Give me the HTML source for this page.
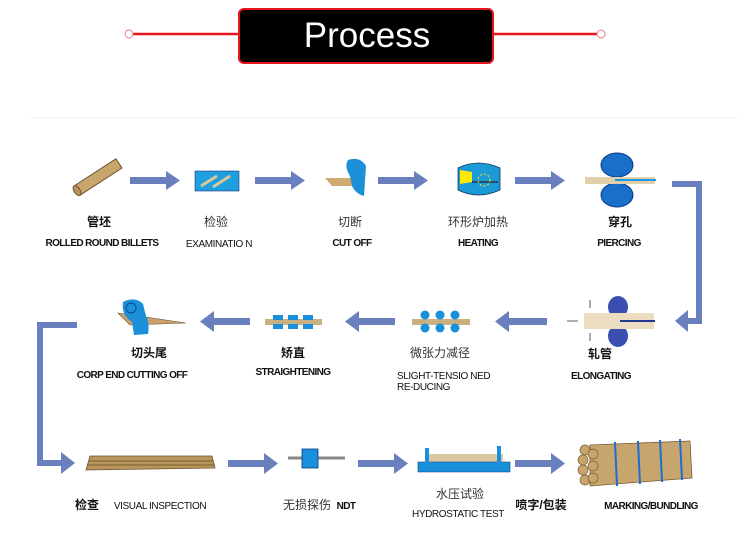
<!DOCTYPE html>
<html><head><meta charset="utf-8"><style>
html,body{margin:0;padding:0;background:#fff;width:750px;height:538px;overflow:hidden}
svg{display:block}
.cn{font-family:"Liberation Sans","Noto Sans CJK SC",sans-serif;font-size:12px;fill:#333;text-anchor:middle}
.cb{font-family:"Liberation Sans","Noto Sans CJK SC",sans-serif;font-size:12px;font-weight:bold;fill:#111;text-anchor:middle}
.en{font-family:"Liberation Sans",sans-serif;font-size:10px;fill:#111;text-anchor:middle;letter-spacing:-0.4px}
.enb{font-family:"Liberation Sans",sans-serif;font-size:10px;font-weight:bold;fill:#111;text-anchor:middle;letter-spacing:-0.6px}
</style></head><body>
<svg width="750" height="538" viewBox="0 0 750 538" xmlns="http://www.w3.org/2000/svg">
<defs>
<marker id="ah" markerWidth="10" markerHeight="10" refX="1" refY="5" orient="auto" markerUnits="userSpaceOnUse"><path d="M0,0 L10,5 L0,10Z" fill="#6a7fbe"/></marker>
</defs>
<!-- header -->
<line x1="129" y1="34" x2="601" y2="34" stroke="#e8141b" stroke-width="2.5"/>
<circle cx="129" cy="34" r="4" fill="#fff" stroke="#e87a80" stroke-width="1"/>
<circle cx="601" cy="34" r="4" fill="#fff" stroke="#e87a80" stroke-width="1"/>
<rect x="239" y="9" width="254" height="54" rx="5" fill="#000" stroke="#e8141b" stroke-width="2"/>
<text x="367" y="47" font-family="Liberation Sans,sans-serif" font-size="35" fill="#fff" text-anchor="middle">Process</text>
<line x1="30" y1="118" x2="740" y2="118" stroke="#f3f3f3" stroke-width="1"/>

<g fill="#6a7fbe">
<!-- row1 arrows -->
<rect x="130" y="177" width="38" height="7"/><path d="M166,171 L180,180.5 L166,190Z"/>
<rect x="255" y="177" width="38" height="7"/><path d="M291,171 L305,180.5 L291,190Z"/>
<rect x="378" y="177" width="38" height="7"/><path d="M414,171 L428,180.5 L414,190Z"/>
<rect x="515" y="177" width="38" height="7"/><path d="M551,171 L565,180.5 L551,190Z"/>
<!-- right connector -->
<rect x="672" y="181" width="30" height="6"/><rect x="696" y="181" width="6" height="143"/><rect x="686" y="318" width="16" height="6"/><path d="M688,310 L675,321 L688,332Z"/>
<!-- row2 arrows (left) -->
<rect x="507" y="318" width="40" height="7"/><path d="M509,311 L495,321.5 L509,332Z"/>
<rect x="357" y="318" width="38" height="7"/><path d="M359,311 L345,321.5 L359,332Z"/>
<rect x="212" y="318" width="38" height="7"/><path d="M214,311 L200,321.5 L214,332Z"/>
<rect x="393" y="318" width="18" height="7" opacity="0"/>
<rect x="375" y="318" width="0" height="0"/>
<!-- from reducing to left partial -->
<rect x="400" y="318" width="0" height="7"/>
<!-- left connector -->
<rect x="37" y="322" width="40" height="6"/><rect x="37" y="322" width="6" height="144"/><rect x="37" y="460" width="26" height="6"/><path d="M61,452 L75,463 L61,474Z"/>
<!-- row3 arrows -->
<rect x="228" y="460" width="38" height="7"/><path d="M264,453 L278,463.5 L264,474Z"/>
<rect x="358" y="460" width="38" height="7"/><path d="M394,453 L408,463.5 L394,474Z"/>
<rect x="515" y="460" width="38" height="7"/><path d="M551,453 L565,463.5 L551,474Z"/>
</g>

<!-- billet -->
<g transform="translate(98,177) rotate(-33)">
<rect x="-25" y="-5.5" width="50" height="11" fill="#c9a66e" stroke="#6b5030" stroke-width="1"/>
<ellipse cx="-25" cy="0" rx="3" ry="5.5" fill="#b8935a" stroke="#6b5030"/>
</g>
<!-- examination -->
<rect x="195" y="171" width="44" height="20" fill="#1e9fe0" stroke="#116" stroke-width="0.5"/>
<line x1="201" y1="186" x2="217" y2="176" stroke="#d8c89a" stroke-width="3"/>
<line x1="213" y1="187" x2="230" y2="176" stroke="#d8c89a" stroke-width="3"/>
<!-- cut off -->
<path d="M325,178 L355,178 L362,186 L332,186Z" fill="#d0aa70"/>
<path d="M348,160 Q360,156 366,166 L364,196 Q356,194 352,186 L350,176 Q344,166 348,160Z" fill="#1b8fd8"/>
<!-- heating -->
<path d="M458,168 Q478,158 500,168 L500,190 Q478,200 458,190Z" fill="#1b9ad8" stroke="#135" stroke-width="0.8"/>
<path d="M460,170 L472,172 L472,182 L460,184Z" fill="#ffea00"/>
<line x1="472" y1="182" x2="498" y2="182" stroke="#222" stroke-width="1.2"/>
<circle cx="484" cy="180" r="6" fill="none" stroke="#ffea00" stroke-width="1" stroke-dasharray="2,2"/>
<!-- piercing -->
<ellipse cx="617" cy="165" rx="16" ry="12" fill="#1a6fc8" stroke="#0a3a80"/>
<ellipse cx="617" cy="195" rx="16" ry="12" fill="#1a6fc8" stroke="#0a3a80"/>
<rect x="585" y="177" width="70" height="7" fill="#e0cfa8"/>
<line x1="615" y1="180" x2="656" y2="180" stroke="#1a9ae0" stroke-width="2"/>
<!-- elongating -->
<ellipse cx="618" cy="307" rx="10" ry="11" fill="#3b4fb0"/>
<ellipse cx="618" cy="336" rx="10" ry="11" fill="#3b4fb0"/>
<rect x="584" y="313" width="70" height="16" fill="#ecdcc0"/>
<line x1="620" y1="321" x2="655" y2="321" stroke="#223a90" stroke-width="2"/>
<g stroke="#333" stroke-width="0.8" fill="#333"><line x1="567" y1="321" x2="578" y2="321"/><line x1="590" y1="300" x2="590" y2="308"/><line x1="590" y1="333" x2="590" y2="341"/></g>
<!-- reducing -->
<rect x="412" y="319" width="58" height="6" fill="#c9b083"/>
<g fill="#1a8fdc"><circle cx="425" cy="315" r="4.5"/><circle cx="440" cy="315" r="4.5"/><circle cx="455" cy="315" r="4.5"/><circle cx="425" cy="328" r="4.5"/><circle cx="440" cy="328" r="4.5"/><circle cx="455" cy="328" r="4.5"/></g>
<!-- straightening -->
<rect x="265" y="319" width="57" height="6" fill="#c9b083"/>
<g fill="#1a8fdc"><rect x="273" y="315" width="10" height="5"/><rect x="288" y="315" width="10" height="5"/><rect x="303" y="315" width="10" height="5"/><rect x="273" y="324" width="10" height="5"/><rect x="288" y="324" width="10" height="5"/><rect x="303" y="324" width="10" height="5"/></g>
<!-- corp end cutting -->
<path d="M118,313 L186,323 L130,325Z" fill="#c9a06a" stroke="#6b5030" stroke-width="0.6"/>
<path d="M123,302 Q135,296 143,304 L146,316 Q150,324 148,334 L134,335 L132,322 Q121,315 123,302Z" fill="#1b8fd8"/>
<circle cx="131" cy="308" r="5" fill="none" stroke="#0a4a90"/>
<!-- visual -->
<path d="M90,456 L212,456 L215,468 L86,470Z" fill="#b8955a" stroke="#6b5030" stroke-width="0.8"/>
<line x1="89" y1="461" x2="213" y2="461" stroke="#7a5e30"/><line x1="88" y1="465" x2="214" y2="465" stroke="#7a5e30"/>
<!-- NDT -->
<line x1="288" y1="458" x2="345" y2="458" stroke="#888" stroke-width="3"/>
<rect x="302" y="449" width="16" height="19" fill="#1a8fdc" stroke="#0a3a80" stroke-width="0.8"/>
<!-- hydro -->
<rect x="425" y="454" width="78" height="12" fill="#d8c8a0"/>
<path d="M418,462 L510,462 L510,472 L418,472Z" fill="#1a8fdc" stroke="#0a3a80" stroke-width="0.6"/>
<rect x="425" y="448" width="4" height="16" fill="#1a8fdc"/><rect x="497" y="446" width="4" height="18" fill="#1a8fdc"/>
<!-- bundle -->
<g fill="#c9a56e" stroke="#7a5a30" stroke-width="0.8">
<path d="M590,445 L690,441 L692,478 L590,486Z"/>
</g>
<g fill="#c9a56e" stroke="#7a5a30" stroke-width="0.7">
<circle cx="585" cy="450" r="5"/><circle cx="583" cy="460" r="5"/><circle cx="583" cy="470" r="5"/><circle cx="585" cy="480" r="5"/><circle cx="593" cy="454" r="5"/><circle cx="593" cy="466" r="5"/><circle cx="593" cy="478" r="5"/>
</g>
<g stroke="#1a6fd0" stroke-width="2"><line x1="615" y1="442" x2="617" y2="486"/><line x1="638" y1="441" x2="640" y2="484"/><line x1="660" y1="440" x2="662" y2="482"/><line x1="680" y1="439" x2="682" y2="480"/></g>

<!-- labels -->
<text class="cb" x="99" y="226">管坯</text>
<text class="enb" x="102" y="246">ROLLED ROUND BILLETS</text>
<text class="cn" x="216" y="226">检验</text>
<text class="en" x="219" y="247">EXAMINATIO N</text>
<text class="cn" x="350" y="226">切断</text>
<text class="enb" x="352" y="246">CUT OFF</text>
<text class="cn" x="478" y="226">环形炉加热</text>
<text class="enb" x="478" y="246">HEATING</text>
<text class="cb" x="620" y="226">穿孔</text>
<text class="enb" x="619" y="246">PIERCING</text>

<text class="cb" x="149" y="357">切头尾</text>
<text class="enb" x="132" y="378">CORP END CUTTING OFF</text>
<text class="cb" x="293" y="357">矫直</text>
<text class="enb" x="293" y="375">STRAIGHTENING</text>
<text class="cn" x="440" y="357">微张力减径</text>
<text class="en" x="397" y="379" text-anchor="start" style="text-anchor:start">SLIGHT-TENSIO NED</text>
<text class="en" x="397" y="390" style="text-anchor:start">RE-DUCING</text>
<text class="cb" x="600" y="358">轧管</text>
<text class="enb" x="601" y="379">ELONGATING</text>

<text class="cb" x="87" y="509">检查</text>
<text class="en" x="160" y="509">VISUAL INSPECTION</text>
<text class="cn" x="307" y="509">无损探伤</text>
<text class="enb" x="346" y="509">NDT</text>
<text class="cn" x="460" y="498">水压试验</text>
<text class="en" x="458" y="517">HYDROSTATIC TEST</text>
<text class="cb" x="541" y="509">喷字/包装</text>
<text class="enb" x="651" y="509">MARKING/BUNDLING</text>
</svg>
</body></html>
